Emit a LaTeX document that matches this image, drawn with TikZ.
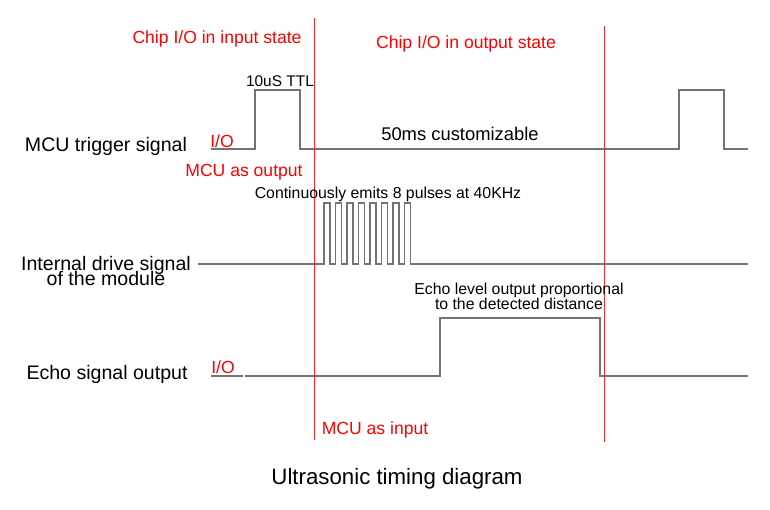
\documentclass[tikz,border=0pt]{standalone}
\usepackage{fontspec}
\setmainfont{Liberation Sans}
\usetikzlibrary{positioning}

\tikzset{
  wave/.style={line width=1.6pt, black!55},
  marker/.style={line width=0.8pt, red!85!white},
  signame/.style={inner sep=0pt, font=\fontsize{16.7}{13.7}\selectfont, align=center},
  redlabel/.style={inner sep=0pt, red, font=\fontsize{15}{16}\selectfont},
  sublabel/.style={inner sep=0pt, font=\fontsize{13.5}{12.8}\selectfont, align=center}
}

\begin{document}
\begin{tikzpicture}[x=0.03cm, y=-0.03cm]

        \useasboundingbox (0, 0) rectangle (770, 510);

        % waveforms
        \draw[wave] (211, 149) -- (255, 149) -- (255, 90) -- (300, 90) -- (300, 149) -- (679, 149) -- (679, 90) -- (724, 90) -- (724, 149) -- (748, 149);

        \draw[wave] (198, 264) -- (324, 264)
          \foreach \i in {0,...,7} { -- ({324+11.5*\i}, 264) -- ({324+11.5*\i}, 203) -- ({330+11.5*\i}, 203) -- ({330+11.5*\i}, 264) }
          -- (748, 264);

        \draw[wave] (211, 376) -- (243, 376);
        \draw[wave] (245, 376) -- (440, 376) -- (440, 318) -- (600, 318) -- (600, 376) -- (748, 376);

        % state boundaries
        \draw[marker] (314, 18) -- (314, 440);
        \draw[marker] (604, 26) -- (604, 442);

        % signal names
        \node[signame] (trigger) at (106, 146) {MCU trigger signal};
        \node[signame] (drive) at (106, 271) {Internal drive signal\\[-3pt]of the module};
        \node[signame] (echo) at (107, 374) {Echo signal output};

        \node[sublabel, font=\fontsize{13.2}{14}\selectfont] (ttl) at (280, 81) {10uS TTL};
        \node[sublabel, font=\fontsize{15.7}{14}\selectfont] (period) at (460, 134) {50ms customizable};
        \node[sublabel] (pulses) at (388, 194) {Continuously emits 8 pulses at 40KHz};
        \node[sublabel] (level) at (519, 296) {Echo level output proportional\\to the detected distance};

        % red notes
        \node[redlabel] (instate) at (217, 39) {Chip I/O in input state};
        \node[redlabel] (outstate) at (466, 44) {Chip I/O in output state};
        \node[redlabel] (ioa) at (222, 141) {I/O};
        \node[redlabel] (iob) at (223, 367) {I/O};
        \node[redlabel] (mcuout) at (244, 172) {MCU as output};
        \node[redlabel] (mcuin) at (375, 430) {MCU as input};

        \node[inner sep=0pt, font=\fontsize{19}{20}\selectfont] (title) at (397, 479) {Ultrasonic timing diagram};

\end{tikzpicture}
\end{document}
